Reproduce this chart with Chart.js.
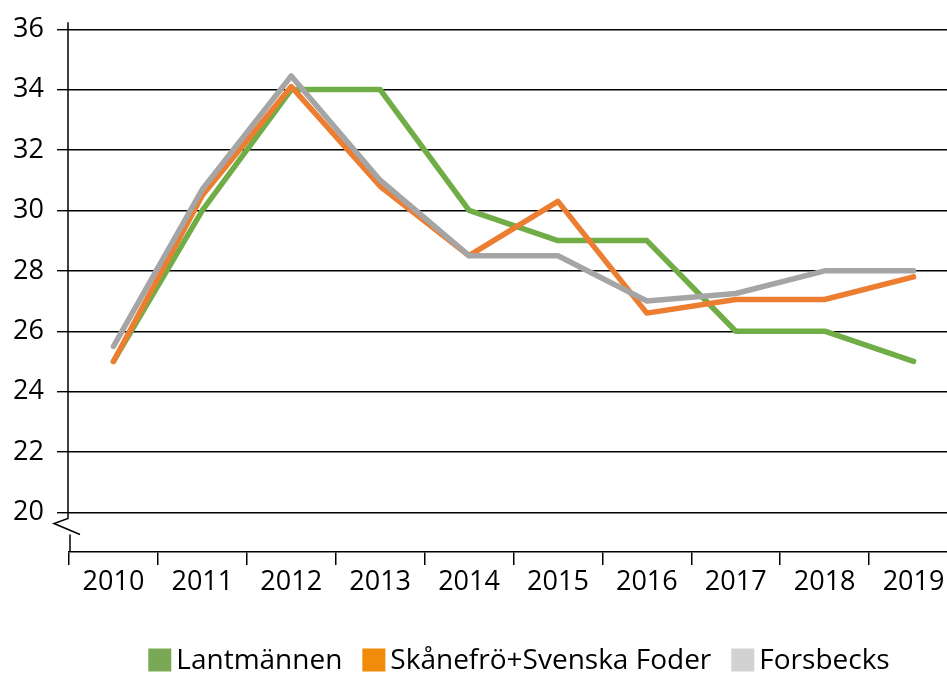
<!DOCTYPE html>
<html>
<head>
<meta charset="utf-8">
<script src="https://cdn.jsdelivr.net/npm/chart.js@4.4.0/dist/chart.umd.min.js"></script>
<style>
    html, body { margin: 0; padding: 0; background: #fff; overflow: hidden; }
    #wrap { width: 958px; height: 675px; }
</style>
</head>
<body>
<div id="wrap"><canvas id="priceChart"></canvas></div>
<script>
const years = ['2010', '2011', '2012', '2013', '2014', '2015', '2016', '2017', '2018', '2019'];
const lantmannen = [25, 30, 34, 34, 30, 29, 29, 26, 26, 25];
const skanefro = [25, 30.5, 34.1, 30.8, 28.5, 30.3, 26.6, 27.05, 27.05, 27.8];
const forsbecks = [25.5, 30.7, 34.45, 31, 28.5, 28.5, 27, 27.25, 28, 28];
const gridValues = [20, 21, 22, 23, 24, 25, 26, 27, 28, 29, 30, 31, 32, 33, 34, 35, 36];
const tickLabels = ['20', '22', '24', '26', '28', '30', '32', '34', '36'];

const legendItems = [
    { text: 'Lantmännen', color: '#7aa955' },
    { text: 'Skånefrö+Svenska Foder', color: '#f28a0a' },
    { text: 'Forsbecks', color: '#d2d2d2' }
];

const FONT = "'Open Sans', 'Liberation Sans', sans-serif";

// axis line with the break mark + bottom legend
const decorPlugin = {
    id: 'decor',
    afterDraw(chart) {
        const ctx = chart.ctx;
        const y = chart.scales.y;
        const left = chart.chartArea.left;
        const yTop = y.getPixelForValue(36) - 7;
        const y20 = y.getPixelForValue(20);
        const bottom = chart.chartArea.bottom;

        ctx.save();
        ctx.strokeStyle = '#000';
        ctx.lineWidth = 1.5;
        ctx.beginPath();
        ctx.moveTo(left - 1, yTop);
        ctx.lineTo(left - 1, y20 + 6);
        ctx.lineTo(left - 15, y20 + 11);
        ctx.lineTo(left + 11, y20 + 22);
        ctx.stroke();
        ctx.beginPath();
        ctx.moveTo(left + 1, y20 + 22);
        ctx.lineTo(left + 1, bottom);
        ctx.stroke();

        // legend
        ctx.font = '28px ' + FONT;
        ctx.textBaseline = 'middle';
        const box = 23, gapIn = 5, gapOut = 20;
        let total = 0;
        legendItems.forEach((it, i) => {
            total += box + gapIn + ctx.measureText(it.text).width;
            if (i < legendItems.length - 1) total += gapOut;
        });
        let x = 519 - total / 2;
        const cy = 660;
        legendItems.forEach(it => {
            ctx.fillStyle = it.color;
            ctx.fillRect(x, cy - box / 2, box, box);
            x += box + gapIn;
            ctx.fillStyle = '#000';
            ctx.fillText(it.text, x, cy + 1);
            x += ctx.measureText(it.text).width + gapOut;
        });
        ctx.restore();
    }
};

document.addEventListener('DOMContentLoaded', () => {
    const ctx = document.getElementById('priceChart').getContext('2d');
    new Chart(ctx, {
        type: 'line',
        data: {
            labels: years,
            datasets: [
                { label: 'Lantmännen', data: lantmannen, borderColor: '#70ad47', order: 3 },
                { label: 'Skånefrö+Svenska Foder', data: skanefro, borderColor: '#ed7d31', order: 2 },
                { label: 'Forsbecks', data: forsbecks, borderColor: '#a5a5a5', order: 1 }
            ]
        },
        options: {
            responsive: true,
            maintainAspectRatio: false,
            animation: false,
            devicePixelRatio: 1,
            layout: { padding: { top: 24, left: 0, right: 0, bottom: 0 } },
            elements: {
                line: { borderWidth: 5.5, tension: 0, borderCapStyle: 'round', borderJoinStyle: 'round', fill: false },
                point: { radius: 0, hoverRadius: 0 }
            },
            plugins: {
                legend: { display: false },
                tooltip: { enabled: false }
            },
            scales: {
                x: {
                    offset: true,
                    afterFit: s => { s.height = 123; },
                    grid: {
                        offset: true,
                        drawOnChartArea: false,
                        drawTicks: true,
                        tickLength: 13,
                        color: '#000',
                        lineWidth: 1.5
                    },
                    border: { display: true, color: '#000', width: 1.5 },
                    ticks: {
                        color: '#000',
                        font: { family: FONT, size: 27 },
                        padding: 1,
                        maxRotation: 0,
                        autoSkip: false
                    }
                },
                y: {
                    min: 18.69,
                    max: 36,
                    afterFit: s => { s.width = 69; },
                    afterBuildTicks: s => { s.ticks = gridValues.map(v => ({ value: v })); },
                    grid: {
                        drawTicks: true,
                        tickLength: 12,
                        color: c => (c.tick && c.tick.value % 2 === 0) ? '#000' : '#6e6e6e',
                        lineWidth: 1.4
                    },
                    border: { display: false },
                    ticks: {
                        color: '#000',
                        font: { family: FONT, size: 27 },
                        padding: 13,
                        callback: v => tickLabels.includes(String(v)) ? String(v) : ''
                    }
                }
            }
        },
        plugins: [decorPlugin]
    });
});
</script>
</body>
</html>
